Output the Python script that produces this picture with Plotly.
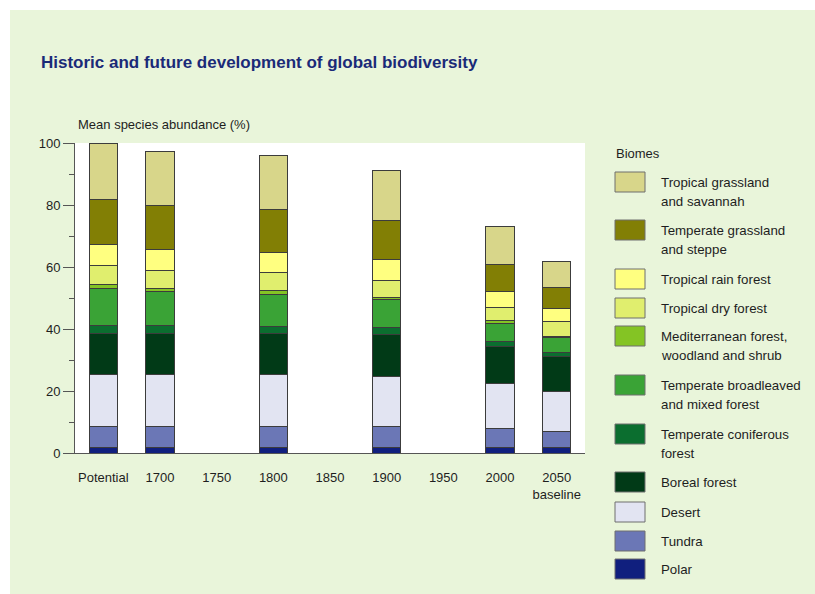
import plotly.graph_objects as go

# ---- data ----
categories = ["Potential", "1700", "1750", "1800", "1850", "1900", "1950", "2000", "2050<br>baseline"]

biomes = [
    "Polar", "Tundra", "Desert", "Boreal forest", "Temperate coniferous<br>forest",
    "Temperate broadleaved<br>and mixed forest", "Mediterranean forest,<br>woodland and shrub",
    "Tropical dry forest", "Tropical rain forest", "Temperate grassland<br>and steppe",
    "Tropical grassland<br>and savannah",
]

polar        = [1.8, 1.8, None, 1.8, None, 1.8, None, 1.8, 1.7]
tundra       = [6.7, 6.7, None, 6.7, None, 6.7, None, 6.2, 5.2]
desert       = [16.7, 16.7, None, 16.7, None, 16.3, None, 14.5, 13.1]
boreal       = [13.5, 13.5, None, 13.2, None, 13.4, None, 12.0, 11.1]
temp_conif   = [2.4, 2.4, None, 2.3, None, 2.2, None, 1.6, 1.3]
temp_broad   = [12.0, 10.9, None, 10.5, None, 9.0, None, 5.7, 4.8]
mediterr     = [1.4, 1.1, None, 1.3, None, 0.9, None, 1.1, 0.5]
trop_dry     = [5.9, 5.9, None, 5.7, None, 5.5, None, 4.0, 4.7]
trop_rain    = [6.9, 6.7, None, 6.5, None, 6.7, None, 5.1, 4.3]
temp_grass   = [14.5, 14.0, None, 14.0, None, 12.4, None, 8.9, 6.7]
trop_grass   = [18.2, 17.7, None, 17.2, None, 16.1, None, 12.1, 8.3]

series = [polar, tundra, desert, boreal, temp_conif, temp_broad, mediterr,
          trop_dry, trop_rain, temp_grass, trop_grass]

colors = ["#101f7e", "#6b77b6", "#e2e4f2", "#013a17", "#0b6e2f", "#3aa336",
          "#84c424", "#e0ee6e", "#ffff80", "#827f05", "#d8d68a"]

y_ticks = [0, 20, 40, 60, 80, 100]

# ---- layout geometry (pixels) ----
W, H = 815, 594
PL, PR, PT, PB = 75, 585, 143, 453
BG = "#e9f5da"
TXT = "#1e1e1e"
FONT = "Liberation Sans, Arial, sans-serif"


def px(x):
    return (x - PL) / (PR - PL)


def py(y):
    return (PB - y) / (PB - PT)


fig = go.Figure()
for name, vals, col in zip(biomes, series, colors):
    fig.add_trace(go.Bar(
        x=categories, y=vals, name=name.replace("<br>", " "),
        marker=dict(color=col, line=dict(color="#3c3c3c", width=1)),
        showlegend=False,
    ))

shapes = []
annotations = []

# white strips outside the green panel
shapes.append(dict(type="rect", xref="paper", yref="paper", x0=px(0), x1=px(W), y0=py(0), y1=py(10),
                   fillcolor="white", line=dict(width=0), layer="below"))
shapes.append(dict(type="rect", xref="paper", yref="paper", x0=px(0), x1=px(10), y0=py(0), y1=py(H),
                   fillcolor="white", line=dict(width=0), layer="below"))

# title + axis title
annotations.append(dict(text="<b>Historic and future development of global biodiversity</b>",
                        xref="paper", yref="paper", x=px(39), y=py(62), xanchor="left", yanchor="middle",
                        showarrow=False, font=dict(size=17, color="#1a2a78", family=FONT)))
annotations.append(dict(text="Mean species abundance (%)", xref="paper", yref="paper",
                        x=px(76), y=py(124), xanchor="left", yanchor="middle",
                        showarrow=False, font=dict(size=13, color=TXT, family=FONT)))

# legend
annotations.append(dict(text="Biomes", xref="paper", yref="paper", x=px(614), y=py(153),
                        xanchor="left", yanchor="middle", showarrow=False,
                        font=dict(size=13, color=TXT, family=FONT)))
swatch_tops = [172, 220, 269, 298, 326, 375, 424, 472, 502, 531, 559]
legend_order = list(range(len(biomes)))[::-1]
for top, idx in zip(swatch_tops, legend_order):
    shapes.append(dict(type="rect", xref="paper", yref="paper", x0=px(615), x1=px(645),
                       y0=py(top), y1=py(top + 20), fillcolor=colors[idx],
                       line=dict(color="#6e6e6e", width=1)))
    for k, line in enumerate(biomes[idx].split("<br>")):
        annotations.append(dict(text=line, xref="paper", yref="paper", x=px(659),
                                y=py(top + 10 + 19.5 * k), xanchor="left", yanchor="middle",
                                showarrow=False, font=dict(size=13.3, color=TXT, family=FONT)))

fig.update_layout(
    width=W, height=H,
    margin=dict(l=PL, r=W - PR, t=PT, b=H - PB, pad=0),
    paper_bgcolor=BG, plot_bgcolor="white",
    barmode="stack", bargap=0.5,
    font=dict(family=FONT, size=13, color=TXT),
    shapes=shapes, annotations=annotations,
    showlegend=False,
)
fig.update_xaxes(type="category", showline=True, linecolor="#555555", linewidth=1,
                 ticks="", showgrid=False, ticklabelstandoff=12,
                 tickfont=dict(size=13, color=TXT, family=FONT))
fig.update_yaxes(range=[0, 100], tickvals=y_ticks, showline=True, linecolor="#555555", linewidth=1,
                 ticks="outside", ticklen=11, tickcolor="#555555", showgrid=False, zeroline=False,
                 minor=dict(dtick=10, ticks="outside", ticklen=5, tickcolor="#555555", showgrid=False),
                 tickfont=dict(size=13, color=TXT, family=FONT))

fig.write_html("out.html", config={"displayModeBar": False},
               post_script="document.body.style.margin='0';document.body.style.overflow='hidden';")
